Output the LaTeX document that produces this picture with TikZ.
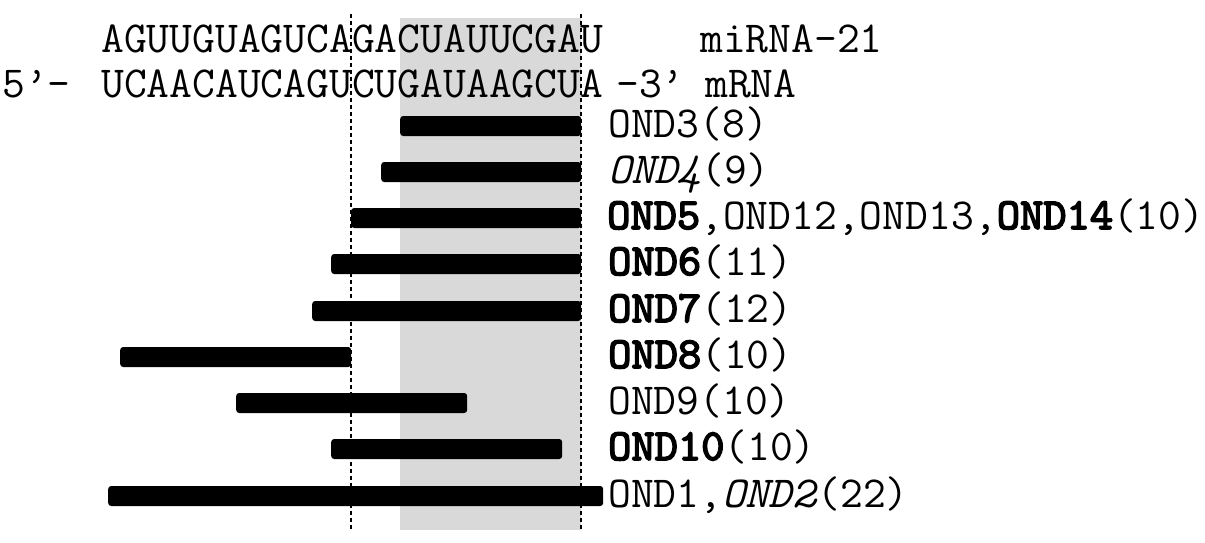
\documentclass[tikz,border=0pt]{standalone}
\usepackage{fontspec}
\newfontfamily\bmonofont[FakeBold=3.5]{lmmono10-regular.otf}
\newcommand\bmono[1]{{\bmonofont #1}}
\definecolor{seedgrey}{HTML}{D9D9D9}
\begin{document}
\begin{tikzpicture}[x=1pt,y=-1pt,
  txt/.style={font=\fontsize{44.3}{47}\selectfont\ttfamily, inner sep=0pt, anchor=base west},
  bar/.style={fill=black, rounded corners=3pt, minimum height=20pt, inner sep=0pt, anchor=west},
  dashline/.style={dash pattern=on 4pt off 3pt, line width=1.3pt}]
\useasboundingbox (0,0) rectangle (1205,543);
% shaded seed region
\fill[seedgrey] (400,18) rectangle (581,530);
% dashed guides
\coordinate (d1t) at (351,14); \coordinate (d1b) at (351,530);
\coordinate (d2t) at (581,14); \coordinate (d2b) at (581,530);
\draw[dashline] (d1t) -- (d1b);
\draw[dashline] (d2t) -- (d2b);
% sequences
\node[txt] (mir) at (101,53) {AGUUGUAGUCAGACUAUUCGAU};
\node[txt] (mirl) at (700,53) {miRNA-21};
\node[txt] (five) at (2,98) {5’-};
\node[txt] (mrna) at (101,98) {UCAACAUCAGUCUGAUAAGCUA};
\node[txt] (three) at (616,98) {-3’};
\node[txt] (mrnal) at (705,98) {mRNA};
% bars
\node[bar, minimum width=181pt] (b3) at (400,126) {};
\node[bar, minimum width=200pt] (b4) at (381,172) {};
\node[bar, minimum width=230pt] (b5) at (351,218) {};
\node[bar, minimum width=250pt] (b6) at (331,264) {};
\node[bar, minimum width=269pt] (b7) at (312,311) {};
\node[bar, minimum width=231pt] (b8) at (120,357) {};
\node[bar, minimum width=231pt] (b9) at (236,403) {};
\node[bar, minimum width=231pt] (b10) at (331,449) {};
\node[bar, minimum width=495pt] (b1) at (108,496) {};
% labels
\node[txt] (l3) at (608,137) {OND3(8)};
\node[txt] (l4) at (608,183) {\textit{OND4}(9)};
\node[txt] (l5) at (607,229) {\bmono{OND5},OND12,OND13,\bmono{OND14}(10)};
\node[txt] (l6) at (608,275) {\bmono{OND6}(11)};
\node[txt] (l7) at (608,322) {\bmono{OND7}(12)};
\node[txt] (l8) at (608,368) {\bmono{OND8}(10)};
\node[txt] (l9) at (608,414) {OND9(10)};
\node[txt] (l10) at (608,460) {\bmono{OND10}(10)};
\node[txt] (l1) at (608,507) {OND1,\textit{OND2}(22)};
\end{tikzpicture}
\end{document}
